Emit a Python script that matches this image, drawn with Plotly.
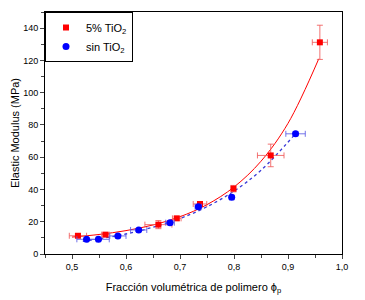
import plotly.graph_objects as go

# 5% TiO2 (red squares)
x_ti = [0.511, 0.562, 0.660, 0.694, 0.737, 0.799, 0.868, 0.959]
y_ti = [11.3, 12.0, 18.2, 22.1, 31.0, 40.5, 61.1, 131.2]
ex_ti = [0.016, 0.007, 0.025, 0.008, 0.0125, 0.004, 0.0246, 0.014]
ey_ti = [1.0, 1.0, 2.5, 1.2, 1.5, 2.0, 7.0, 10.6]

# sin TiO2 (blue circles)
x_sin = [0.527, 0.549, 0.585, 0.6235, 0.6815, 0.734, 0.7957, 0.914]
y_sin = [9.1, 9.1, 11.2, 14.9, 19.4, 29.3, 35.1, 74.5]
ex_sin = [0.018, 0.02, 0.015, 0.015, 0.008, 0.006, 0.004, 0.018]
ey_sin = [0.6, 0.6, 0.8, 0.8, 0.8, 1.0, 1.0, 1.2]

# fitted curves
xfit_ti = [0.50, 0.55, 0.60, 0.65, 0.70, 0.75, 0.80, 0.85, 0.90, 0.957]
yfit_ti = [10.5, 12.1, 14.5, 18.0, 23.1, 30.6, 41.5, 57.5, 81.0, 121.0]
xfit_sin = [0.52, 0.55, 0.60, 0.65, 0.70, 0.75, 0.80, 0.85, 0.91]
yfit_sin = [7.9, 9.35, 12.4, 16.6, 22.0, 29.3, 39.0, 51.9, 73.1]

xticks = [0.5, 0.6, 0.7, 0.8, 0.9, 1.0]
yticks = [0, 20, 40, 60, 80, 100, 120, 140]

FONT = "Liberation Sans, Arial, sans-serif"

fig = go.Figure()
fig.add_trace(go.Scatter(x=xfit_ti, y=yfit_ti, mode="lines", line=dict(color="red", width=1, shape="spline"),
                         showlegend=False, hoverinfo="skip"))
fig.add_trace(go.Scatter(x=xfit_sin, y=yfit_sin, mode="lines",
                         line=dict(color="#3a3ad8", width=1.3, dash="dot", shape="spline"),
                         showlegend=False, hoverinfo="skip"))
fig.add_trace(go.Scatter(
    x=x_ti, y=y_ti, mode="markers", name="5% TiO<sub>2</sub>",
    marker=dict(symbol="square", color="red", size=6),
    error_x=dict(type="data", array=ex_ti, color="rgba(240,90,90,0.85)", thickness=1, width=3),
    error_y=dict(type="data", array=ey_ti, color="rgba(240,90,90,0.85)", thickness=1, width=3),
))
fig.add_trace(go.Scatter(
    x=x_sin, y=y_sin, mode="markers", name="sin TiO<sub>2</sub>",
    marker=dict(symbol="circle", color="blue", size=7),
    error_x=dict(type="data", array=ex_sin, color="rgba(90,90,230,0.85)", thickness=1, width=3),
    error_y=dict(type="data", array=ey_sin, color="rgba(90,90,230,0.85)", thickness=1, width=3),
))

fig.update_layout(
    width=365, height=300,
    margin=dict(l=45, r=23, t=12, b=46, autoexpand=False),
    paper_bgcolor="white", plot_bgcolor="white",
    separators=",.",
    font=dict(family=FONT, size=9, color="black"),
    showlegend=True,
    legend=dict(x=0, y=1, xanchor="left", yanchor="top", bgcolor="white",
                bordercolor="black", borderwidth=1, font=dict(size=11, family=FONT),
                itemwidth=30, tracegroupgap=0, traceorder="normal"),
    xaxis=dict(range=[0.45, 1.0], tickvals=xticks, tickformat=".1f", ticks="outside", ticklen=4,
               tickcolor="#444", showline=True, linecolor="black", linewidth=1, mirror=True,
               showgrid=False, zeroline=False, automargin=False,
               minor=dict(dtick=0.05, tick0=0.45, ticks="outside", ticklen=3, tickcolor="#444"),
               title=dict(text="Fracción volumétrica de polimero ϕ<sub>p</sub>", font=dict(size=11), standoff=12)),
    yaxis=dict(range=[0, 150], tickvals=yticks, ticks="outside", ticklen=4, tickcolor="#444",
               showline=True, linecolor="black", linewidth=1, mirror=True,
               showgrid=False, zeroline=False, automargin=False,
               minor=dict(dtick=10, tick0=0, ticks="outside", ticklen=3, tickcolor="#444"),
               title=dict(text="Elastic Modulus (MPa)", font=dict(size=11), standoff=1)),
)

fig.write_html("out.html", config={"displayModeBar": False},
               post_script="document.body.style.margin='0';")
